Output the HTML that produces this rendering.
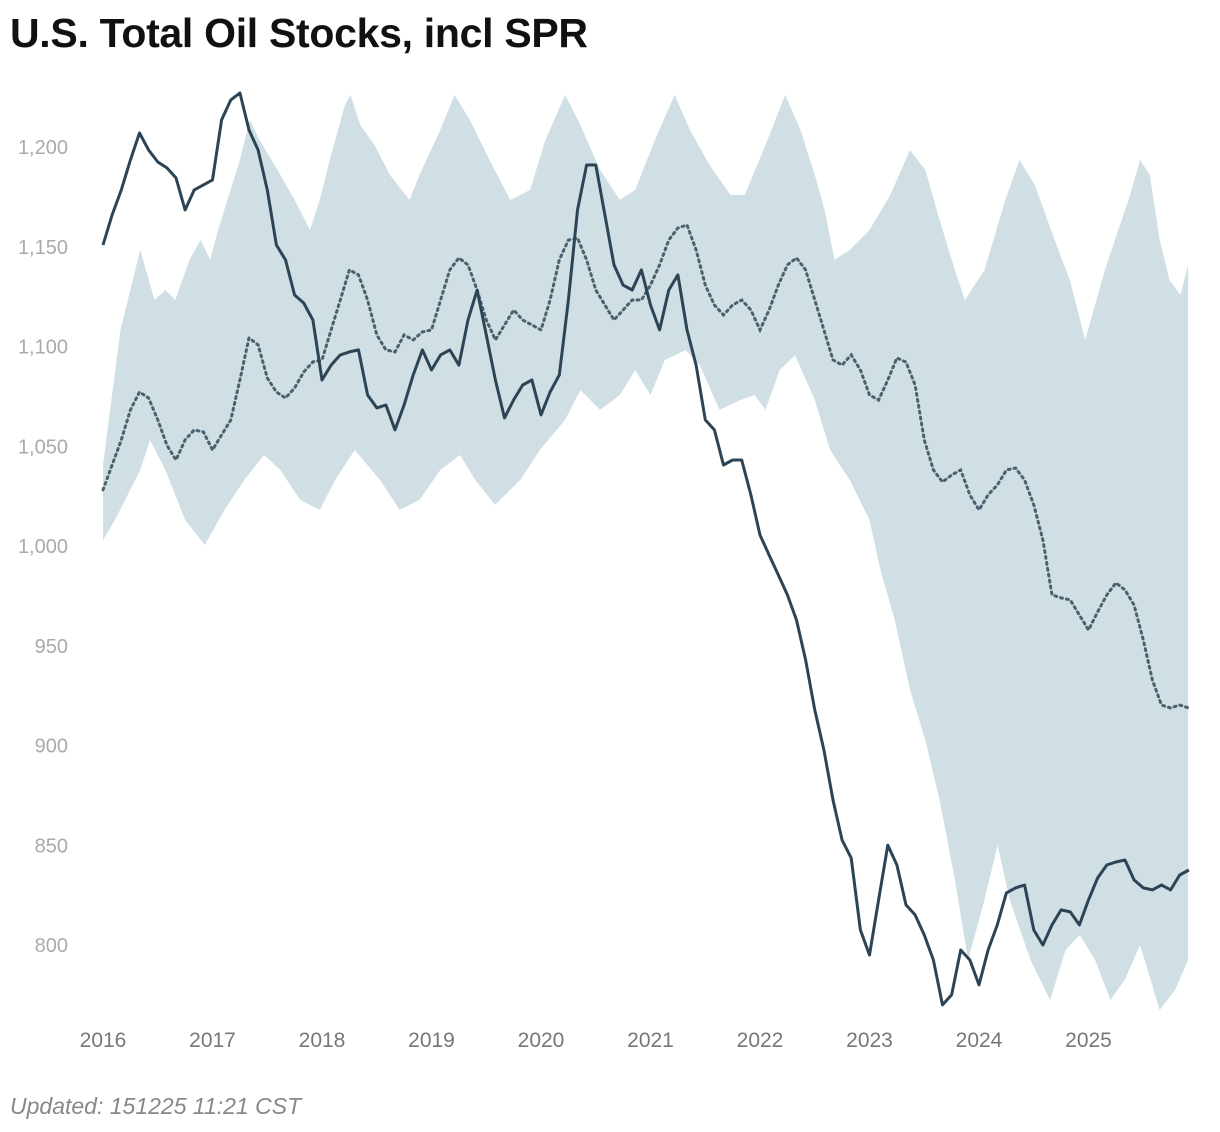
<!DOCTYPE html>
<html><head><meta charset="utf-8">
<style>
html,body{margin:0;padding:0;background:#fff;}
body{width:1220px;height:1132px;position:relative;font-family:"Liberation Sans",sans-serif;overflow:hidden;}
#title{position:absolute;left:10px;top:10px;font-size:41px;font-weight:bold;color:#111;letter-spacing:-0.3px;}
#foot{position:absolute;left:10px;top:1093px;font-size:23px;font-style:italic;color:#888;}
svg{position:absolute;left:0;top:0;}
</style></head><body>
<div id="title">U.S. Total Oil Stocks, incl SPR</div>
<svg id="chart" width="1220" height="1132"></svg>
<div id="foot">Updated: 151225 11:21 CST</div>
<script>
const yTicks=[800,850,900,950,1000,1050,1100,1150,1200];
const yTickLabels=["800","850","900","950","1,000","1,050","1,100","1,150","1,200"];
const xTicks=[2016,2017,2018,2019,2020,2021,2022,2023,2024,2025];
const actual=[1150.9,1165.9,1178.5,1193.5,1207.0,1198.5,1192.5,1189.5,1184.5,1168.4,1178.5,1181.0,
1183.5,1213.6,1223.6,1227.1,1208.5,1198.5,1178.5,1150.9,1143.4,1125.8,1121.8,1113.3,
1083.2,1090.7,1095.8,1097.3,1098.3,1075.7,1069.2,1070.7,1058.2,1070.7,1085.7,1098.3,
1088.2,1095.8,1098.3,1090.7,1113.3,1128.3,1105.8,1083.2,1064.2,1073.2,1080.7,1083.2,
1065.7,1077.2,1085.7,1123.3,1168.4,1191.0,1191.0,1165.9,1140.9,1130.8,1128.3,1138.4,
1120.8,1108.3,1128.3,1135.9,1108.3,1090.7,1063.2,1058.2,1040.6,1043.1,1043.1,1025.6,
1005.5,995.5,985.5,975.5,962.9,942.9,917.8,897.8,872.7,852.6,843.6,807.5,
795.0,822.6,850.1,840.1,820.1,815.1,805.0,792.5,770.0,775.0,797.5,792.5,
780.0,797.5,810.1,826.1,828.6,830.1,807.5,800.0,810.1,817.6,816.6,810.1,
822.6,833.6,840.1,841.6,842.6,832.6,828.6,827.6,830.1,827.6,835.1,837.6];
const average=[1028.1,1040.6,1053.2,1068.2,1077.2,1074.2,1063.2,1050.6,1043.1,1053.2,1058.2,1057.2,
1048.1,1055.7,1063.2,1083.2,1104.3,1100.8,1084.2,1077.2,1074.2,1079.2,1087.2,1092.3,
1093.3,1108.3,1123.3,1138.4,1135.9,1123.3,1105.8,1098.3,1097.3,1105.8,1103.3,1107.3,
1108.3,1123.3,1138.4,1144.4,1140.9,1128.3,1113.3,1103.3,1110.8,1118.3,1113.3,1110.8,
1108.3,1123.3,1143.4,1153.4,1154.4,1143.4,1128.3,1120.8,1113.3,1118.3,1123.3,1123.3,
1130.8,1140.9,1153.4,1159.4,1160.9,1148.4,1130.8,1120.8,1115.8,1120.8,1123.3,1118.3,
1108.3,1118.3,1130.8,1140.9,1144.4,1138.4,1123.3,1108.3,1093.3,1090.7,1095.8,1088.2,
1075.7,1073.2,1083.2,1094.3,1092.2,1080.7,1053.2,1038.1,1032.1,1035.6,1038.1,1025.6,
1018.1,1025.6,1030.6,1038.1,1039.1,1033.1,1020.6,1003.0,975.5,974.0,973.0,965.4,
957.9,966.9,975.5,981.5,978.0,970.4,952.9,932.8,920.3,918.8,920.3,918.8];
const upperDates=[2016.00,2016.16,2016.34,2016.47,2016.57,2016.66,2016.79,2016.89,2016.98,2017.05,2017.25,2017.34,2017.43,2017.62,2017.75,2017.89,2017.98,2018.07,2018.21,2018.26,2018.35,2018.48,2018.62,2018.80,2018.89,2019.08,2019.21,2019.35,2019.53,2019.72,2019.90,2020.04,2020.22,2020.36,2020.54,2020.72,2020.86,2021.04,2021.22,2021.36,2021.54,2021.73,2021.86,2022.05,2022.23,2022.37,2022.50,2022.59,2022.68,2022.82,2023.00,2023.19,2023.37,2023.51,2023.64,2023.78,2023.87,2024.05,2024.24,2024.37,2024.51,2024.69,2024.83,2024.97,2025.15,2025.38,2025.47,2025.56,2025.65,2025.74,2025.84,2025.91];
const upperVals=[1040.6,1108.3,1148.4,1123.3,1128.3,1123.3,1143.4,1153.4,1143.4,1158.4,1193.5,1213.6,1203.5,1186.0,1173.5,1158.4,1173.5,1193.5,1221.1,1226.1,1211.0,1201.0,1186.0,1173.5,1186.0,1208.5,1226.1,1213.6,1193.5,1173.5,1178.5,1203.5,1226.1,1211.0,1188.5,1173.5,1178.5,1203.5,1226.1,1208.5,1191.0,1176.0,1176.0,1201.0,1226.1,1208.5,1186.0,1168.4,1143.4,1148.4,1158.4,1176.0,1198.5,1188.5,1163.4,1138.4,1123.3,1138.4,1173.5,1193.5,1181.0,1153.4,1133.3,1103.3,1138.4,1176.0,1193.5,1186.0,1153.4,1133.3,1125.8,1140.9];
const lowerDates=[2016.00,2016.11,2016.34,2016.43,2016.57,2016.75,2016.93,2017.11,2017.29,2017.47,2017.62,2017.80,2017.98,2018.12,2018.30,2018.53,2018.71,2018.89,2019.08,2019.26,2019.40,2019.58,2019.81,2019.99,2020.22,2020.36,2020.54,2020.72,2020.86,2021.00,2021.13,2021.32,2021.45,2021.63,2021.82,2021.95,2022.05,2022.18,2022.32,2022.50,2022.64,2022.82,2023.00,2023.10,2023.23,2023.37,2023.51,2023.64,2023.78,2023.90,2024.05,2024.17,2024.28,2024.47,2024.65,2024.79,2024.92,2025.06,2025.20,2025.33,2025.47,2025.65,2025.79,2025.91];
const lowerVals=[1003.0,1013.1,1038.1,1053.1,1038.1,1013.1,1000.5,1018.1,1033.1,1045.6,1038.1,1023.1,1018.1,1033.1,1048.1,1033.1,1018.1,1023.1,1038.1,1045.6,1033.1,1020.6,1033.1,1048.1,1063.2,1078.2,1068.2,1075.7,1088.2,1075.7,1093.2,1098.2,1090.7,1068.2,1073.2,1075.7,1068.2,1088.2,1095.7,1073.2,1048.1,1033.1,1013.1,988.0,962.9,927.8,902.8,872.7,832.6,792.5,822.6,850.1,822.6,792.5,772.4,797.5,805.0,792.5,772.4,782.4,800.0,767.4,777.4,792.5];

const NS="http://www.w3.org/2000/svg";
const svg=document.getElementById('chart');
function xOf(t){return 103+(t-2016)*109.5;}
function yOf(v){return 147+(1200-v)*1.995;}
function mk(tag,attrs){const e=document.createElementNS(NS,tag);for(const k in attrs)e.setAttribute(k,attrs[k]);svg.appendChild(e);return e;}
const defs=document.createElementNS(NS,'defs');
defs.innerHTML='<clipPath id="clip"><rect x="95" y="60" width="1100" height="955"/></clipPath>';
svg.appendChild(defs);
const g=document.createElementNS(NS,'g');g.setAttribute('clip-path','url(#clip)');svg.appendChild(g);

let d='';
upperDates.forEach((t,i)=>{d+=(i?'L':'M')+xOf(t).toFixed(1)+','+yOf(upperVals[i]).toFixed(1);});
for(let i=lowerDates.length-1;i>=0;i--){d+='L'+xOf(lowerDates[i]).toFixed(1)+','+yOf(lowerVals[i]).toFixed(1);}
d+='Z';
const band=document.createElementNS(NS,'path');
band.setAttribute('d',d);band.setAttribute('fill','#d0dfe4');


g.appendChild(band);

function linePath(arr){return arr.map((v,i)=>(i?'L':'M')+xOf(2016+i/12).toFixed(1)+','+yOf(v).toFixed(1)).join('');}
const avg=document.createElementNS(NS,'path');
avg.setAttribute('d',linePath(average));avg.setAttribute('fill','none');avg.setAttribute('stroke','#4a6270');
avg.setAttribute('stroke-width','3');avg.setAttribute('stroke-dasharray','2 4');avg.setAttribute('stroke-linecap','round');


g.appendChild(avg);
const act=document.createElementNS(NS,'path');
act.setAttribute('d',linePath(actual));act.setAttribute('fill','none');act.setAttribute('stroke','#2c4556');
act.setAttribute('stroke-width','3');act.setAttribute('stroke-linejoin','round');


g.appendChild(act);

yTicks.forEach((v,i)=>{
  const t=mk('text',{x:68,y:yOf(v)+7,'text-anchor':'end','font-size':'20',fill:'#aaaaaa','font-family':'Liberation Sans, sans-serif'});
  t.textContent=yTickLabels[i];
  
  
});
xTicks.forEach(y=>{
  const t=mk('text',{x:xOf(y),y:1047,'text-anchor':'middle','font-size':'21',fill:'#777777','font-family':'Liberation Sans, sans-serif'});
  t.textContent=String(y);
  
  
});
</script>
</body></html>
